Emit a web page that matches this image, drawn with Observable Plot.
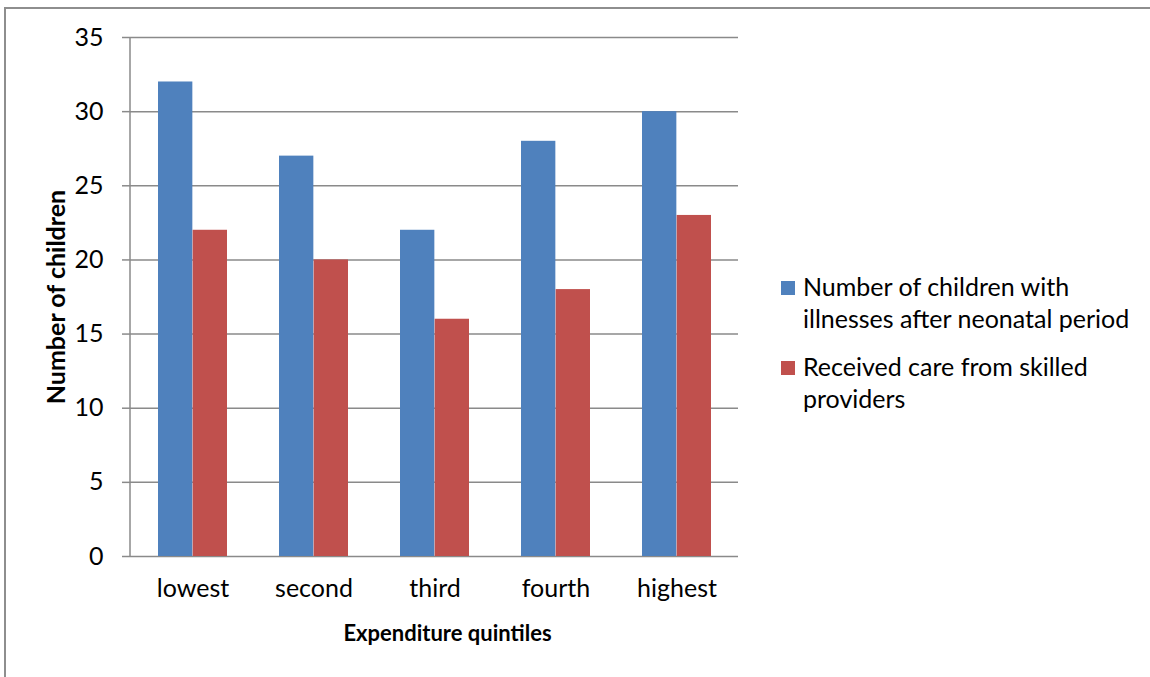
<!DOCTYPE html>
<html>
<head>
<meta charset="utf-8">
<script src="https://cdn.jsdelivr.net/npm/d3@7"></script>
<script src="https://cdn.jsdelivr.net/npm/@observablehq/plot@0.6"></script>
<style>
  html, body { margin: 0; padding: 0; background: #fff; }
  #wrap { position: relative; width: 1150px; height: 677px; overflow: hidden; font-family: Lato, "Open Sans", sans-serif; }
  #frame { position: absolute; left: 4px; top: 7px; right: -10px; bottom: -10px; border-top: 2px solid #8e8e8e; border-left: 2px solid #8e8e8e; }
  #chart { position: absolute; left: 0; top: 0; }
  #legend { position: absolute; left: 781px; top: 270px; font-size: 25px; color: #000; line-height: 32px; }
  .item { display: flex; align-items: flex-start; margin-bottom: 16px; }
  .swatch { width: 14px; height: 14px; margin-top: 11px; margin-right: 8px; flex: none; }
</style>
</head>
<body>
<div id="wrap">
  <div id="frame"></div>
  <div id="chart"></div>
  <div id="legend"></div>
</div>
<script>
// Expenditure quintiles and the two counts per quintile
const quintiles = ["lowest", "second", "third", "fourth", "highest"];
const illChildren = [32, 27, 22, 28, 30];
const skilledCare = [22, 20, 16, 18, 23];
const seriesNames = [
  "Number of children with illnesses after neonatal period",
  "Received care from skilled providers"
];
const seriesColors = ["#4f81bd", "#c0504d"];
const yTicks = [0, 5, 10, 15, 20, 25, 30, 35];

const rows = quintiles.flatMap((q, i) => [
  {quintile: q, series: seriesNames[0], value: illChildren[i]},
  {quintile: q, series: seriesNames[1], value: skilledCare[i]}
]);

const W = 1150, H = 677;
const mLeft = 130, mRight = 412, mTop = 37, mBottom = 121;
const padInner = 0.43, padOuter = 0.215;
// each quintile band holds two side-by-side bars
const step = (W - mLeft - mRight) / (quintiles.length - padInner + 2 * padOuter);
const half = step * (1 - padInner) / 2;

const font = "Lato, 'Open Sans', sans-serif";
const grid = "#8a8a8a";

const chart = Plot.plot({
  width: W,
  height: H,
  marginLeft: mLeft,
  marginRight: mRight,
  marginTop: mTop,
  marginBottom: mBottom,
  style: {fontFamily: font, fontSize: "25px", color: "#000", background: "transparent"},
  x: {domain: quintiles, paddingInner: padInner, paddingOuter: padOuter, label: null},
  y: {domain: [0, 35], label: null},
  marks: [
    Plot.ruleY(yTicks, {stroke: grid, strokeWidth: 1.5}),
    Plot.barY(rows.filter(d => d.series === seriesNames[0]), {
      x: "quintile", y: "value", fill: seriesColors[0], insetRight: half
    }),
    Plot.barY(rows.filter(d => d.series === seriesNames[1]), {
      x: "quintile", y: "value", fill: seriesColors[1], insetLeft: half
    }),
    Plot.axisY(yTicks, {tickSize: 8, tickPadding: 19, stroke: grid, strokeWidth: 1.5, label: null, fontSize: 25}),
    Plot.axisX({tickSize: 0, tickPadding: 23, label: null, fontSize: 25}),
    Plot.text(["Expenditure quintiles"], {
      frameAnchor: "bottom", textAnchor: "middle", dx: 13, dy: 77, fontWeight: "bold", fontSize: 22, lineAnchor: "middle"
    }),
    Plot.text(["Number of children"], {
      frameAnchor: "left", textAnchor: "middle", dx: -74, rotate: -90, fontWeight: "bold", fontSize: 25, lineAnchor: "middle"
    })
  ]
});

// vertical axis line along the left edge of the frame
const y = chart.scale("y");
const xs = chart.scale("x");
d3.select(chart).append("line")
  .attr("x1", xs.range[0]).attr("x2", xs.range[0])
  .attr("y1", y.apply(35)).attr("y2", y.apply(0))
  .attr("stroke", grid).attr("stroke-width", 1.5);

document.getElementById("chart").appendChild(chart);

const legend = d3.select("#legend");
const legendLines = [
  ["Number of children with", "illnesses after neonatal period"],
  ["Received care from skilled", "providers"]
];
legendLines.forEach((lines, i) => {
  const item = legend.append("div").attr("class", "item");
  item.append("div").attr("class", "swatch").style("background", seriesColors[i]);
  item.append("div").html(lines.join("<br>"));
});
</script>
</body>
</html>
